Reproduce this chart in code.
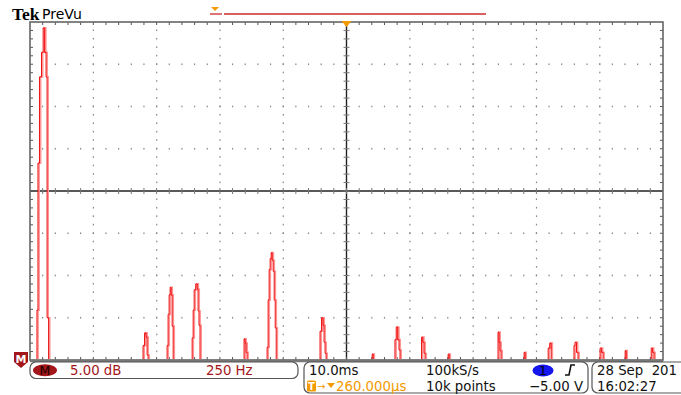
<!DOCTYPE html>
<html>
<head>
<meta charset="utf-8">
<script src="https://cdn.jsdelivr.net/npm/d3@7"></script>
<style>
  body { margin: 0; background: #fff; }
  text { font-family: "DejaVu Sans", sans-serif; }
</style>
</head>
<body>
<div id="scope"></div>
<script>
var svgWidth = 681;
var svgHeight = 395;

// FFT trace: frequency (Hz) and level (dB, top of screen = 0) of the bins above the floor
var peak1Hz = [27, 31, 35, 43, 51, 56, 63, 67, 71, 79];
var peak1Db = [-45, -34.1, -16.7, -6.5, -3.6, -0.7, -3.6, -6.5, -35.0, -45];
var harmHz = [
  [446, 450, 458, 462, 466, 470],
  [541, 545, 549, 553, 557, 561, 565, 569],
  [640, 644, 648, 652, 660, 664, 667, 671, 675],
  [845, 849, 853, 857, 861],
  [936, 940, 944, 948, 952, 956, 960, 964, 968, 972, 976],
  [1145, 1149, 1157, 1161, 1165, 1169, 1173],
  [1351, 1355, 1359],
  [1441, 1445, 1451, 1457, 1461, 1465],
  [1546, 1550, 1556, 1560, 1564],
  [1651, 1655, 1659],
  [1848, 1852, 1856, 1860, 1864],
  [1951, 1955, 1959],
  [2046, 2050, 2058, 2062],
  [2148, 2152, 2156, 2164, 2168],
  [2251, 2255, 2263, 2267],
  [2350, 2354, 2358],
  [2453, 2457, 2464, 2468]
];
var harmDb = [
  [-45, -38.3, -36.8, -37.3, -39.4, -45],
  [-45, -38.3, -34.6, -32.3, -31.4, -32.3, -36.0, -45],
  [-45, -37.4, -34.1, -31.7, -31.0, -31.6, -34.2, -35.9, -45],
  [-45, -37.5, -38.0, -39.1, -45],
  [-45, -38.5, -32.9, -29.3, -28.0, -27.3, -28.2, -29.5, -32.9, -36.2, -45],
  [-45, -36.6, -35.0, -35.9, -37.9, -39.2, -45],
  [-45, -39.3, -45],
  [-45, -37.6, -36.1, -37.6, -38.8, -45],
  [-45, -37.3, -37.9, -39.2, -45],
  [-45, -39.3, -45],
  [-45, -36.7, -37.9, -38.9, -45],
  [-45, -39.1, -45],
  [-45, -38.6, -38.0, -45],
  [-45, -38.3, -37.9, -39.1, -45],
  [-45, -38.6, -39.1, -45],
  [-45, -38.9, -45],
  [-45, -38.6, -39.1, -45]
];

// readout texts
var mathScale = "5.00 dB";
var mathSpan = "250 Hz";
var timeRow1 = ["10.0ms", "100kS/s"];
var timeRow2 = ["260.000µs", "10k points"];
var trigLevel = "\u22125.00 V";
var dateRow = ["28 Sep  201", "16:02:27"];

var margin = { top: 22, right: 18, bottom: 35, left: 30 };
var fs = "13.3px";

var svg = d3
  .select("#scope")
  .append("svg")
  .attr("width", svgWidth)
  .attr("height", svgHeight);

var xScale = d3
  .scaleLinear()
  .domain([0, 2500])
  .range([margin.left, svgWidth - margin.right]);

var yScale = d3
  .scaleLinear()
  .domain([-40, 0])
  .range([svgHeight - margin.bottom, margin.top]);

var x0 = xScale(0), x1 = xScale(2500), y0 = yScale(-40), y1 = yScale(0);
var xc = xScale(1250), yc = yScale(-20);

var grid = svg.append("g");

// dotted graticule lines
var majorX = d3.range(250, 2500, 250).filter((d) => d !== 1250);
var majorY = d3.range(-35, 0, 5).filter((d) => d !== -20);
var minorX = d3.range(50, 2500, 50);
var minorY = d3.range(-39, 0, 1);

majorX.forEach(function (fx) {
  grid
    .selectAll(null)
    .data(minorY)
    .enter()
    .append("rect")
    .attr("x", xScale(fx) - 0.5)
    .attr("y", (d) => yScale(d) - 1)
    .attr("width", 1.2)
    .attr("height", 1.6)
    .attr("fill", "#888");
});
majorY.forEach(function (dy) {
  grid
    .selectAll(null)
    .data(minorX)
    .enter()
    .append("rect")
    .attr("x", (d) => xScale(d) - 0.6)
    .attr("y", yScale(dy) - 0.8)
    .attr("width", 1.2)
    .attr("height", 1.6)
    .attr("fill", "#888");
});

// center cross with tick marks
grid
  .append("line")
  .attr("x1", x0).attr("x2", x1).attr("y1", yc).attr("y2", yc)
  .attr("stroke", "#222").attr("stroke-width", 1.4);
grid
  .append("line")
  .attr("x1", xc).attr("x2", xc).attr("y1", y1).attr("y2", y0)
  .attr("stroke", "#222").attr("stroke-width", 1.4);
grid
  .selectAll(null)
  .data(minorX)
  .enter()
  .append("line")
  .attr("x1", (d) => xScale(d)).attr("x2", (d) => xScale(d))
  .attr("y1", yc - 3).attr("y2", yc + 3)
  .attr("stroke", "#777").attr("stroke-width", 1);
grid
  .selectAll(null)
  .data(minorY)
  .enter()
  .append("line")
  .attr("x1", xc - 3).attr("x2", xc + 3)
  .attr("y1", (d) => yScale(d)).attr("y2", (d) => yScale(d))
  .attr("stroke", "#777").attr("stroke-width", 1);

// border ticks
grid
  .selectAll(null)
  .data(minorX)
  .enter()
  .append("line")
  .attr("x1", (d) => xScale(d)).attr("x2", (d) => xScale(d))
  .attr("y1", y1).attr("y2", y1 + 3)
  .attr("stroke", "#555").attr("stroke-width", 1);
grid
  .selectAll(null)
  .data(minorX)
  .enter()
  .append("line")
  .attr("x1", (d) => xScale(d)).attr("x2", (d) => xScale(d))
  .attr("y1", y0).attr("y2", y0 - 3)
  .attr("stroke", "#555").attr("stroke-width", 1);
grid
  .selectAll(null)
  .data(minorY)
  .enter()
  .append("line")
  .attr("x1", x0).attr("x2", x0 + 3)
  .attr("y1", (d) => yScale(d)).attr("y2", (d) => yScale(d))
  .attr("stroke", "#555").attr("stroke-width", 1);
grid
  .selectAll(null)
  .data(minorY)
  .enter()
  .append("line")
  .attr("x1", x1).attr("x2", x1 - 3)
  .attr("y1", (d) => yScale(d)).attr("y2", (d) => yScale(d))
  .attr("stroke", "#555").attr("stroke-width", 1);

grid
  .append("rect")
  .attr("x", x0).attr("y", y1)
  .attr("width", x1 - x0).attr("height", y0 - y1)
  .attr("fill", "none").attr("stroke", "#666").attr("stroke-width", 1.6);
grid
  .append("line")
  .attr("x1", x0).attr("x2", x1).attr("y1", y0 + 1).attr("y2", y0 + 1)
  .attr("stroke", "#777").attr("stroke-width", 2.5);

// FFT trace
svg
  .append("clipPath")
  .attr("id", "plotClip")
  .append("rect")
  .attr("x", x0).attr("y", y1 - 2)
  .attr("width", x1 - x0).attr("height", y0 - y1 + 1);

var trace = [peak1Hz.map((f, i) => [f, peak1Db[i]])];
harmHz.forEach(function (hz, k) {
  trace.push(hz.map((f, i) => [f, harmDb[k][i]]));
});

var line = d3
  .line()
  .x((d) => xScale(d[0]))
  .y((d) => yScale(d[1]))
  .curve(d3.curveStep);

var traceG = svg.append("g").attr("clip-path", "url(#plotClip)");
traceG
  .selectAll(".glow")
  .data(trace)
  .enter()
  .append("path")
  .attr("d", line)
  .attr("transform", "translate(0.7,0)")
  .attr("fill", "none")
  .attr("stroke", "#ff9494")
  .attr("stroke-width", 1.7);
traceG
  .selectAll(".core")
  .data(trace)
  .enter()
  .append("path")
  .attr("d", line)
  .attr("transform", "translate(-0.4,0)")
  .attr("fill", "none")
  .attr("stroke", "#ee1111")
  .attr("stroke-width", 1);

// trigger position marker on top border
svg
  .append("path")
  .attr("d", `M${xc - 5},${y1 - 1} L${xc + 5},${y1 - 1} L${xc},${y1 + 5} Z`)
  .attr("fill", "#f39a00");

// header
svg
  .append("text")
  .text("Tek")
  .attr("x", 12)
  .attr("y", 20)
  .style("font-family", "'Liberation Serif', serif")
  .style("font-weight", "bold")
  .style("font-size", "17.5px")
  .attr("fill", "#000");
svg
  .append("text")
  .text("PreVu")
  .attr("x", 42)
  .attr("y", 19)
  .style("font-size", "14px")
  .attr("fill", "#000");

// record view bar
svg
  .append("path")
  .attr("d", "M211,7 L219,7 L215,11 Z")
  .attr("fill", "#f39a00");
svg
  .append("line")
  .attr("x1", 210).attr("x2", 222).attr("y1", 14).attr("y2", 14)
  .attr("stroke", "#cc2b2b").attr("stroke-width", 1.3);
svg
  .append("line")
  .attr("x1", 224).attr("x2", 486).attr("y1", 14).attr("y2", 14)
  .attr("stroke", "#cc2b2b").attr("stroke-width", 1.3);

// math reference badge on the left
var badge = svg.append("g").attr("transform", `translate(14,${y0 - 8})`);
badge
  .append("path")
  .attr("d", "M0,0 L14,0 L14,10 L7,16 L0,10 Z")
  .attr("fill", "#a3161a");
badge
  .append("text")
  .text("M")
  .attr("x", 7)
  .attr("y", 11)
  .style("text-anchor", "middle")
  .style("font-size", "11px")
  .style("font-weight", "bold")
  .attr("fill", "#fff");

// readout boxes
var boxes = [
  [30, 362, 268, 16.5],
  [304, 362, 284, 31],
  [592, 362, 100, 31]
];
svg
  .selectAll(".box")
  .data(boxes)
  .enter()
  .append("rect")
  .attr("x", (d) => d[0])
  .attr("y", (d) => d[1])
  .attr("width", (d) => d[2])
  .attr("height", (d) => d[3])
  .attr("rx", 6)
  .attr("fill", "#fff")
  .attr("stroke", "#555")
  .attr("stroke-width", 1.2);

svg
  .append("ellipse")
  .attr("cx", 45).attr("cy", 370.3)
  .attr("rx", 12).attr("ry", 6)
  .attr("fill", "#a3161a");
svg
  .append("text")
  .text("M")
  .attr("x", 45).attr("y", 375)
  .style("text-anchor", "middle")
  .style("font-size", "12.5px")
  .attr("fill", "#1a0000");
svg
  .append("text")
  .text(mathScale)
  .attr("x", 70).attr("y", 375)
  .style("font-size", fs)
  .attr("fill", "#a3161a");
svg
  .append("text")
  .text(mathSpan)
  .attr("x", 206).attr("y", 375)
  .style("font-size", fs)
  .attr("fill", "#a3161a");

svg
  .append("text")
  .text(timeRow1[0])
  .attr("x", 309).attr("y", 375)
  .style("font-size", fs)
  .attr("fill", "#111");
svg
  .append("text")
  .text(timeRow1[1])
  .attr("x", 426).attr("y", 375)
  .style("font-size", fs)
  .attr("fill", "#111");

// trigger position row
svg
  .append("rect")
  .attr("x", 307).attr("y", 380.5)
  .attr("width", 9).attr("height", 11)
  .attr("rx", 1.5)
  .attr("fill", "#f39a00");
svg
  .append("text")
  .text("T")
  .attr("x", 311.5).attr("y", 390)
  .style("text-anchor", "middle")
  .style("font-size", "10px")
  .style("font-weight", "bold")
  .attr("fill", "#fff");
svg
  .append("text")
  .text("\u2192")
  .attr("x", 317).attr("y", 390)
  .style("font-size", "10px")
  .attr("fill", "#f39a00");
svg
  .append("path")
  .attr("d", "M327,383 L335,383 L331,388 Z")
  .attr("fill", "#f39a00");
svg
  .append("text")
  .text(timeRow2[0])
  .attr("x", 336).attr("y", 391)
  .style("font-size", fs)
  .attr("fill", "#f39a00");
svg
  .append("text")
  .text(timeRow2[1])
  .attr("x", 426).attr("y", 391)
  .style("font-size", fs)
  .attr("fill", "#111");

// trigger channel and level
svg
  .append("ellipse")
  .attr("cx", 543).attr("cy", 370.5)
  .attr("rx", 10.5).attr("ry", 6)
  .attr("fill", "#1515ee");
svg
  .append("text")
  .text("1")
  .attr("x", 543).attr("y", 375)
  .style("text-anchor", "middle")
  .style("font-size", "12.5px")
  .attr("fill", "#000");
svg
  .append("path")
  .attr("d", "M565,375 L569,375 L571,365 L575,365")
  .attr("fill", "none")
  .attr("stroke", "#111")
  .attr("stroke-width", 1.6);
svg
  .append("text")
  .text(trigLevel)
  .attr("x", 583).attr("y", 391)
  .style("text-anchor", "end")
  .style("font-size", fs)
  .attr("fill", "#111");

svg
  .append("text")
  .text(dateRow[0])
  .attr("x", 597).attr("y", 375)
  .attr("xml:space", "preserve")
  .style("white-space", "pre")
  .style("font-size", fs)
  .attr("fill", "#111");
svg
  .append("text")
  .text(dateRow[1])
  .attr("x", 597).attr("y", 391)
  .style("font-size", fs)
  .attr("fill", "#111");
</script>
</body>
</html>
